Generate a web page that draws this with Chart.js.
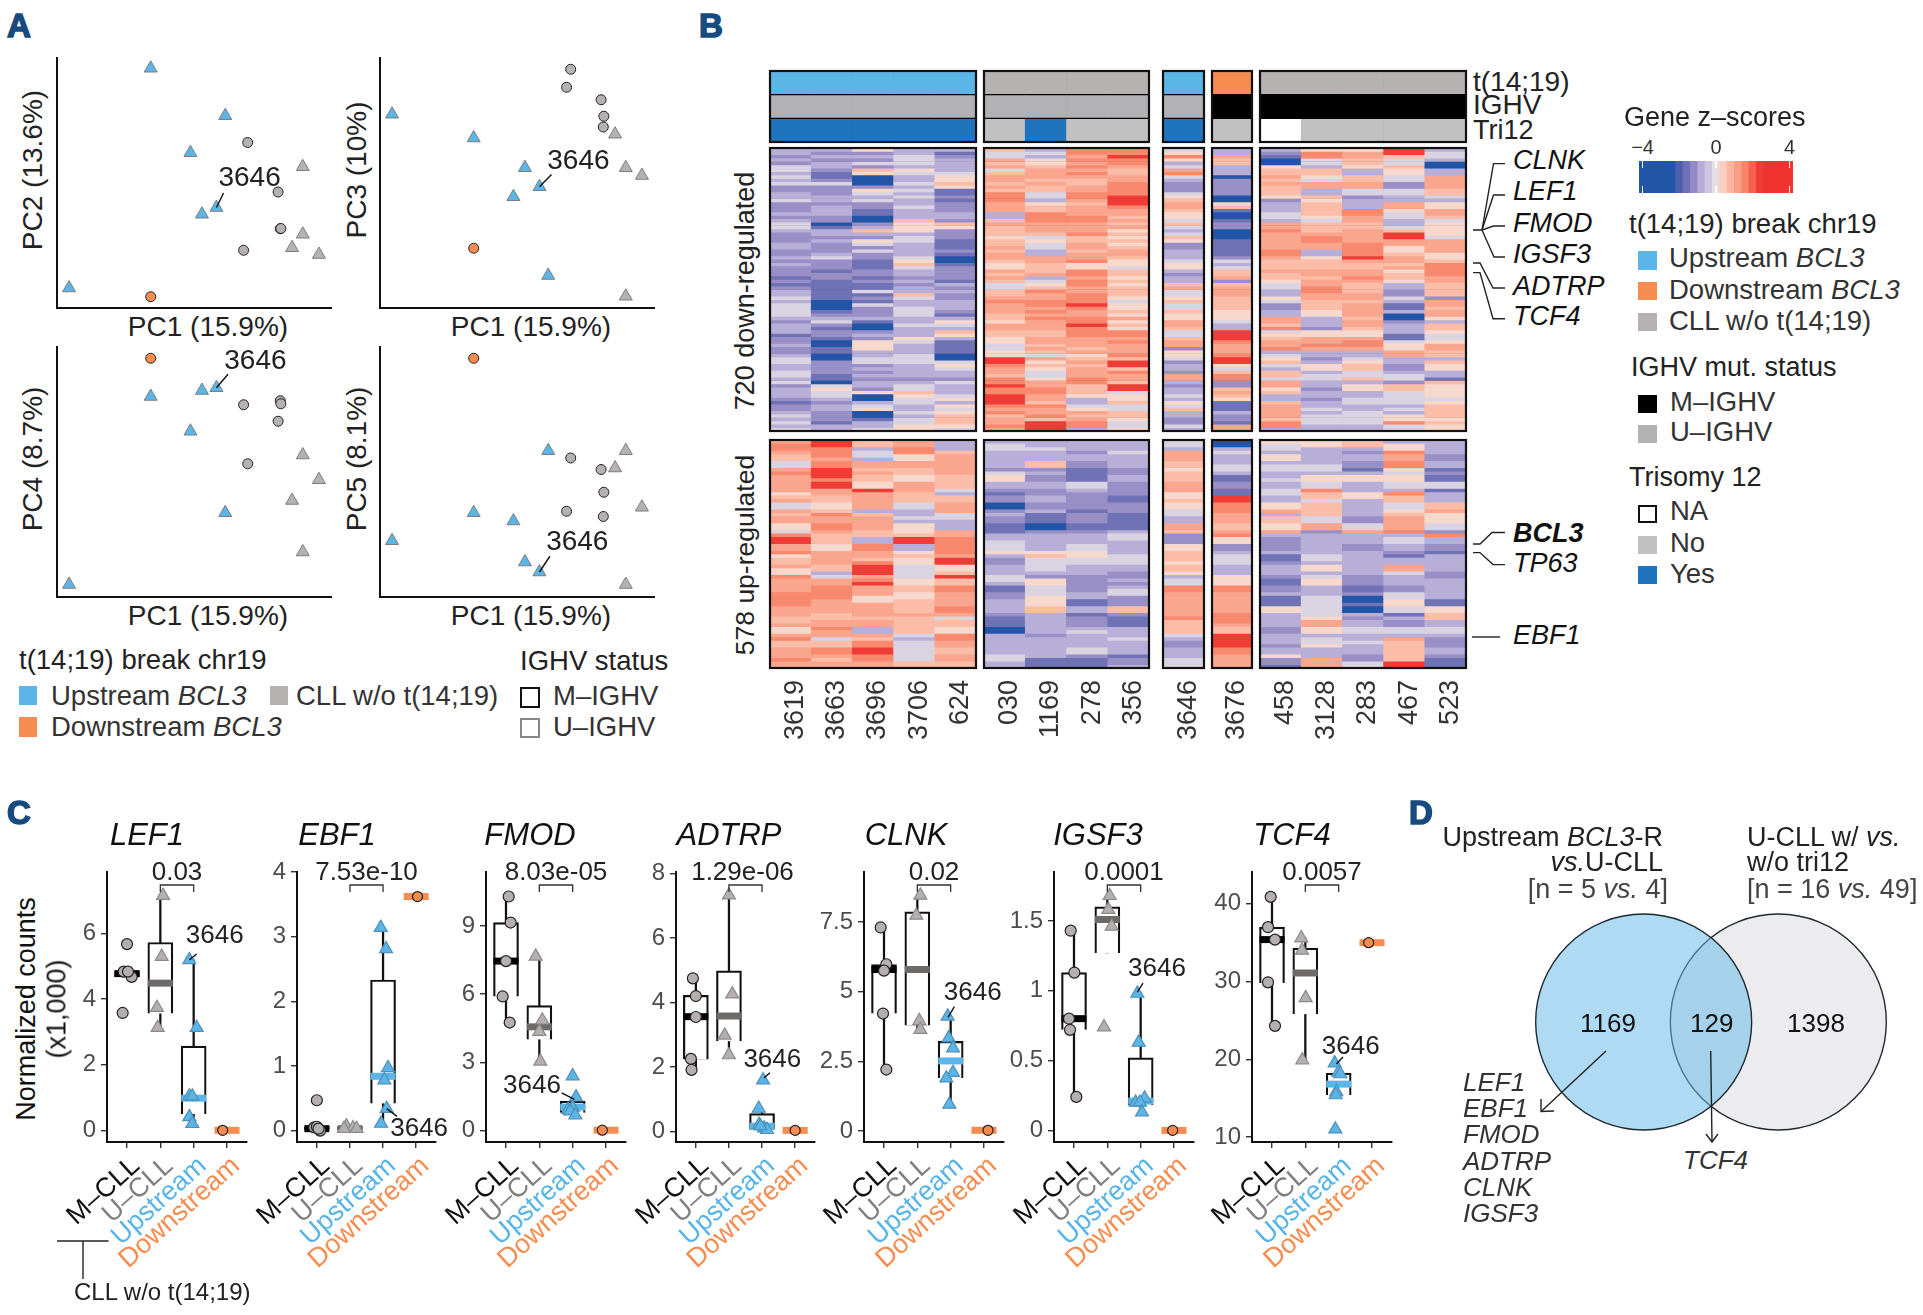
<!DOCTYPE html>
<html>
<head>
<meta charset="utf-8">
<title>BCL3 translocated CLL</title>
<script src="https://cdn.jsdelivr.net/npm/chart.js@4"></script>
<style>
  html, body { margin: 0; background: #fff; }
  #page { position: relative; width: 1923px; height: 1315px; overflow: hidden; font-family: "Liberation Sans", sans-serif; color: #222; }
  #page canvas { position: absolute; }
  #page svg { position: absolute; left: 0; top: 0; }
  .t { position: absolute; white-space: nowrap; line-height: 1; }
  .sq { position: absolute; box-sizing: border-box; }
</style>
</head>
<body>
<div id="page"></div>
<script>
// ---- panel A: PCA, one value per sample, in plot units ----
const pc1 = [4.4, 34.2, 34.2, 48.7, 52.9, 58.2, 61.4, 68.1, 69.6, 80.7, 81.5, 81.7, 85.8, 89.7, 89.7, 95.6];
const pc2 = [8.0, 95.9, 4.5, 62.1, 37.5, 40.2, 76.9, 23.1, 66.2, 46.4, 31.7, 31.8, 24.1, 29.5, 56.5, 21.4];
const pc3 = [77.5, 68, 23.9, 44.5, 56.1, 48.5, 13, 88.3, 95.5, 83.3, 72.4, 76.7, 69.5, 56.1, 4.7, 53];
const pc4 = [5, 80.2, 95.5, 66.3, 82.6, 83.7, 33.7, 76.9, 53.3, 70.3, 78.5, 77.3, 38.6, 56.8, 18, 46.9];
const pc5 = [22.5, 33.7, 95.5, 30.4, 14, 10, 58.5, 34.3, 55.6, 51, 32.2, 41.9, 51.6, 58.5, 5, 35.9];
const pcaGroup = ['up', 'up', 'down', 'up', 'up', 'up', 'up', 'cll', 'cll', 'cll', 'cll', 'cll', 'cll', 'cll', 'cll', 'cll'];
const pcaIghv = ['U', 'U', 'M', 'U', 'U', 'U', 'U', 'M', 'M', 'M', 'M', 'M', 'U', 'U', 'U', 'U'];

// ---- panel B: samples and annotation tracks ----
const samplesA = ['3619', '3663', '3696', '3706', '624'];
const samplesB = ['030', '1169', '278', '356'];
const samplesC = ['3646'];
const samplesD = ['3676'];
const samplesE = ['458', '3128', '283', '467', '523'];
const trackBreak = ['up', 'cll', 'up', 'down', 'cll'];
const trackIghv = ['U', 'U', 'U', 'M', 'M'];
const trackTri = [['Y', 'Y', 'Y', 'Y', 'Y'], ['N', 'Y', 'N', 'N'], ['Y'], ['N'], ['NA', 'N', 'N', 'N', 'N']];

// heatmap cells, one string per sample, top row first; each digit is a bin of zLevels
const zLevels = [-2.4, -1.6, -1.15, -0.75, -0.2, 0.25, 0.7, 1.1, 1.55, 2.4];
const downA = [
  '332324 434342 233422 232344 322233 223232 221212 334344 443233 312232 234433 443423 332122 343434',
  '323233 211242 223323 332201 332322 234222 122111 111000 123421 221001 100222 211045 443233 222133',
  '523242 650002 543422 110023 632542 422111 221211 412142 223100 232555 334423 232332 500345 001334',
  '334443 543343 434334 333655 534433 334564 332323 364334 443343 335433 344433 332344 654433 434455',
  '312333 345565 112122 233265 222111 210012 222132 322333 213543 653111 100454 332433 345354 566654'];
const downB = [
  '644767 467767 688877 733676 665667 677655 767644 667877 766577 665544 559987 768898 899987 867787',
  '343556 777676 644356 688877 764544 337766 673456 877887 878777 667767 647565 445778 877687 786999',
  '887878 787667 788767 778877 786677 677855 887887 788898 778898 887776 756767 778866 653345 767883',
  '889887 667788 889998 776767 565656 776554 665656 665455 657565 887877 786996 877699 455644 665445'];
const downC = ['458534 784322 245677 655464 346522 333455 323367 445644 655776 446772 554233 277323 343546 332243'];
const downD = ['337663 330222 220056 100122 000111 112434 667267 776666 555433 999877 789954 688226 765111 322177'];
const downE = [
  '321005 667676 665233 344377 877777 887666 766544 335422 337768 456778 345643 664775 633677 776883',
  '588443 665477 336566 665466 678877 335666 776778 877666 553332 557787 332355 344332 332334 344433',
  '577665 336677 442333 887766 777788 889766 778766 677677 776776 557887 334566 446355 334433 444433',
  '996446 554422 443377 544334 699775 567767 566533 224311 300233 311455 773322 344266 444434 355844',
  '344300 337777 664355 776455 554777 755688 887766 662776 775366 544577 663655 331655 554566 665655'];
const upA = [
  '788766 447877 777567 447677 554899 778566 755877 778888 777667 557866 777877',
  '998887 889998 997766 556877 887666 557777 663477 888877 776677 877466 887677',
  '663443 776766 559777 773677 776633 887768 999789 777557 777677 337688 998877',
  '778855 776655 777666 443343 555699 335655 444455 665566 667666 664344 444466',
  '333677 777766 664366 777443 337788 888799 556966 887777 887466 558877 667766'];
const upB = [
  '344333 332455 332122 002322 111334 445322 333443 112233 332111 003333 334433',
  '334333 662322 332233 223111 002333 335644 443255 444555 663333 332333 333111',
  '333233 221111 443222 221222 112333 445544 333222 223311 331222 343333 442111',
  '333433 332233 222211 222111 113443 333444 332232 344222 662111 333433 331223'];
const upC = ['443777 665666 777556 554433 776222 556665 665344 887777 777866 664322 333444'];
const upD = ['003433 344311 221199 888777 667855 223444 333555 887777 778887 669999 887777'];
const upE = [
  '544355 344334 334433 557366 557322 223112 333211 223111 553333 223332 335221',
  '553333 344355 448664 666644 772333 333443 553455 333444 444577 553445 333777',
  '663233 221355 333553 333322 447333 223333 333222 112001 003233 443343 332244',
  '355877 885455 443866 445677 778344 332133 774333 224455 441322 443766 666699',
  '333322 331211 441333 667555 442833 221333 332233 333311 556633 443222 332111'];

// colour key bins
const keyBins = [-4, -3.6, -3.2, -2.8, -2.4, -2, -1.6, -1.2, -0.8, -0.4, 0, 0.4, 0.8, 1.2, 1.6, 2, 2.4, 2.8, 3.2, 3.6, 4];

// ---- panel C: counts per gene; order M-CLL, U-CLL, Upstream, Downstream ----
const groupNames = ['M\u2013CLL', 'U\u2013CLL', 'Upstream', 'Downstream'];
const lef1Values = [[5.68, 3.58, 4.68, 4.84, 4.84], [7.16, 5.3, 3.74, 3.13], [5.2, 3.13, 1.04, 1.04, 0.41, 0.2], [0]];
const lef1Jitter = [[0, -0.13, 0.14, -0.1, 0.03], [0.08, 0.04, -0.1, -0.08], [-0.13, 0.09, -0.13, -0.04, -0.13, -0.04], [-0.13]];
const lef1Box = [[4.68, 4.68, 4.78, 4.84, 4.84], [3.13, 3.56, 4.49, 5.73, 7.16], [0.2, 0.5, 0.98, 2.57, 5.2], [0, 0, 0, 0, 0]];
const lef1Ticks = [0, 2, 4, 6];
const ebf1Values = [[0.47, 0.05, 0.06, 0, 0.03], [0.07, 0.04, 0.03, 0.03], [3.14, 2.81, 0.97, 0.78, 0.34, 0.11], [3.62]];
const ebf1Jitter = [[0, -0.08, 0, 0.1, 0.05], [-0.11, 0.09, -0.18, 0.2], [-0.07, 0.09, 0.15, 0.04, 0.11, -0.06], [0.04]];
const ebf1Box = [[0.02, 0.02, 0.03, 0.05, 0.05], [0.02, 0.02, 0.03, 0.05, 0.05], [0.11, 0.42, 0.84, 2.33, 3.14], [3.62, 3.62, 3.62, 3.62, 3.62]];
const ebf1Ticks = [0, 1, 2, 3, 4];
const fmodValues = [[10.31, 9.16, 7.46, 5.9, 4.75], [7.67, 4.85, 4.35, 3.04], [2.39, 1.46, 0.91, 0.99, 0.84, 0.66], [0]];
const fmodJitter = [[0.08, 0.14, 0, -0.1, 0.11], [-0.11, 0.09, 0, 0.03], [0, 0.1, -0.14, 0, -0.08, 0.08], [-0.11]];
const fmodBox = [[4.75, 5.9, 7.46, 9.16, 10.31], [3.04, 4.0, 4.56, 5.5, 7.67], [0.66, 0.77, 1.02, 1.28, 1.46], [0, 0, 0, 0, 0]];
const fmodTicks = [0, 3, 6, 9];
const adtrpValues = [[4.75, 4.2, 3.55, 2.25, 1.91], [7.33, 4.26, 2.98, 2.37], [1.59, 0.71, 0.21, 0.1, 0.05, 0.16], [0.03]];
const adtrpJitter = [[-0.09, 0, 0, -0.15, -0.13], [0, 0.1, -0.13, 0], [0.03, -0.1, -0.09, 0.06, 0.15, -0.05], [0]];
const adtrpBox = [[1.91, 2.24, 3.56, 4.22, 4.75], [2.37, 2.8, 3.58, 4.98, 7.33], [0.05, 0.05, 0.16, 0.55, 0.71], [0.03, 0.03, 0.03, 0.03, 0.03]];
const adtrpTicks = [0, 2, 4, 6, 8];
const clnkValues = [[7.31, 5.99, 5.76, 4.22, 2.21], [8.46, 7.74, 3.96, 3.64], [4.12, 3.34, 2.98, 2.1, 1.9, 0.96], [0.03]];
const clnkJitter = [[-0.1, 0.07, 0, -0.03, 0.07], [0.09, -0.03, 0.06, 0.09], [-0.09, -0.06, 0.07, 0.07, -0.13, -0.04], [0.12]];
const clnkBox = [[2.21, 4.22, 5.8, 5.98, 7.31], [3.64, 3.8, 5.8, 7.87, 8.46], [0.96, 1.92, 2.52, 3.22, 4.12], [0.03, 0.03, 0.03, 0.03, 0.03]];
const clnkTicks = [0, 2.5, 5, 7.5];
const igsf3Values = [[1.43, 1.13, 0.8, 0.72, 0.24], [1.68, 1.58, 1.46, 0.74], [0.98, 0.63, 0.23, 0.2, 0.2, 0.13], [0]];
const igsf3Jitter = [[-0.1, 0.01, -0.15, -0.12, 0.07], [0.07, 0.03, 0.13, -0.1], [-0.1, -0.06, 0.12, -0.15, -0.02, 0.04], [-0.04]];
const igsf3Box = [[0.24, 0.72, 0.8, 1.13, 1.43], [1.27, 1.27, 1.51, 1.6, 1.68], [0.13, 0.18, 0.21, 0.52, 0.98], [0, 0, 0, 0, 0]];
const igsf3Ticks = [0, 0.5, 1, 1.5];
const tcf4Values = [[40.9, 37, 35.4, 29.9, 24.3], [35.6, 34, 27.9, 19.9], [19.5, 18.3, 18.1, 15.8, 15.4, 11], [35]];
const tcf4Jitter = [[-0.04, -0.12, 0.09, -0.12, 0.09], [-0.12, -0.1, 0.01, -0.09], [-0.12, -0.01, 0.05, -0.07, -0.09, -0.1], [-0.1]];
const tcf4Box = [[24.3, 29.8, 35.4, 37, 40.9], [19.9, 25.8, 31.1, 34.3, 35.6], [15.4, 15.4, 16.8, 18.2, 19.5], [35, 35, 35, 35, 35]];
const tcf4Ticks = [10, 20, 30, 40];

// ---- panel D: venn counts ----
const vennCounts = [1169, 129, 1398];

// colours
const groupColor = { up: '#5BB5E6', down: '#F78C50', cll: '#B7B2B2' };
const ighvColor = { U: '#B2B2B4', M: '#000000' };
const triColor = { Y: '#1F74BD', N: '#C0C1C0', NA: '#FFFFFF' };
const zStops = [[-2.4, '#2355A7'], [-1.9, '#5561AD'], [-1.3, '#8B82BE'], [-0.8, '#B5ACD8'], [0, '#E6E0E4'], [0.3, '#FAD6C8'], [0.8, '#FBB5A0'], [1.3, '#F99A82'], [1.8, '#F7755A'], [2.5, '#EE3330']];

function zColor(z) {
  if (z <= zStops[0][0]) return zStops[0][1];
  for (let i = 1; i < zStops.length; i++) {
    if (z <= zStops[i][0]) {
      const f = (z - zStops[i - 1][0]) / (zStops[i][0] - zStops[i - 1][0]);
      const a = parseInt(zStops[i - 1][1].slice(1), 16), b = parseInt(zStops[i][1].slice(1), 16);
      const mix = s => Math.round(((a >> s) & 255) * (1 - f) + ((b >> s) & 255) * f);
      return `rgb(${mix(16)},${mix(8)},${mix(0)})`;
    }
  }
  return zStops[zStops.length - 1][1];
}

const page = document.getElementById('page');
Chart.defaults.font.family = '"Liberation Sans", sans-serif';
Chart.defaults.animation = false;
Chart.defaults.plugins.legend.display = false;
Chart.defaults.plugins.tooltip.enabled = false;

// draws text, leader lines and the p value bracket in data coordinates
Chart.register({
  id: 'notes',
  afterDatasetsDraw(chart, args, opts) {
    const ctx = chart.ctx, sx = chart.scales.x, sy = chart.scales.y;
    ctx.save();
    ctx.strokeStyle = '#111';
    ctx.fillStyle = '#222';
    ctx.textAlign = 'center';
    ctx.textBaseline = 'middle';
    ctx.font = (opts.size || 26) + 'px "Liberation Sans"';
    (opts.items || []).forEach(it => {
      if (it.line) {
        ctx.lineWidth = 1.4;
        ctx.beginPath();
        ctx.moveTo(sx.getPixelForValue(it.line[0]), sy.getPixelForValue(it.line[1]));
        ctx.lineTo(sx.getPixelForValue(it.line[2]), sy.getPixelForValue(it.line[3]));
        ctx.stroke();
      }
      if (it.text) ctx.fillText(it.text, sx.getPixelForValue(it.x), sy.getPixelForValue(it.y));
    });
    if (opts.pValue) {
      const top = chart.chartArea.top, a = sx.getPixelForValue(1), b = sx.getPixelForValue(2);
      ctx.lineWidth = 1.3;
      ctx.strokeStyle = '#333';
      ctx.beginPath();
      ctx.moveTo(a, top + 20);
      ctx.lineTo(a, top + 13);
      ctx.lineTo(b, top + 13);
      ctx.lineTo(b, top + 20);
      ctx.stroke();
      ctx.fillText(opts.pValue, (a + b) / 2 + opts.pShift, top + 1);
    }
    ctx.restore();
  }
});

// black frame round the heatmap blocks
Chart.register({
  id: 'frame',
  beforeDatasetsDraw(chart, args, opts) {
    if (!opts.on) return;
    const a = chart.chartArea;
    chart.ctx.fillStyle = '#000';
    chart.ctx.fillRect(a.left, a.top, a.width, a.height);
  },
  afterDatasetsDraw(chart, args, opts) {
    if (!opts.on) return;
    const a = chart.chartArea;
    chart.ctx.strokeStyle = '#111';
    chart.ctx.lineWidth = 2.2;
    chart.ctx.strokeRect(a.left, a.top, a.width, a.height);
  }
});

// rect is the plot area in page pixels, m the room kept round it for axes and notes
function addChart(rect, m, config) {
  const canvas = document.createElement('canvas');
  canvas.width = rect[2] - rect[0] + m.l + m.r;
  canvas.height = rect[3] - rect[1] + m.t + m.b;
  canvas.style.left = (rect[0] - m.l) + 'px';
  canvas.style.top = (rect[1] - m.t) + 'px';
  page.appendChild(canvas);
  const o = config.options;
  const xOn = o.scales.x.display !== false, yOn = o.scales.y.display !== false;
  o.responsive = false;
  o.layout = { autoPadding: false, padding: { left: yOn ? 0 : m.l, right: m.r, top: m.t, bottom: xOn ? 0 : m.b } };
  if (xOn) o.scales.x.afterFit = s => { s.height = m.b; s.paddingLeft = 0; s.paddingRight = 0; };
  if (yOn) o.scales.y.afterFit = s => { s.width = m.l; s.paddingTop = 0; s.paddingBottom = 0; };
  return new Chart(canvas, config);
}

function label(x, y, html, opt) {
  opt = opt || {};
  const d = document.createElement('div');
  d.className = 't';
  d.innerHTML = html;
  d.style.left = x + 'px';
  d.style.top = y + 'px';
  d.style.fontSize = (opt.size || 27.5) + 'px';
  if (opt.color) d.style.color = opt.color;
  if (opt.weight) d.style.fontWeight = opt.weight;
  if (opt.italic) d.style.fontStyle = 'italic';
  if (opt.stroke) d.style.webkitTextStroke = opt.stroke;
  const ax = opt.align === 'center' ? '-50%' : opt.align === 'right' ? '-100%' : '0';
  d.style.transform = `translate(${ax},-50%)` + (opt.rotate ? ` rotate(${opt.rotate}deg)` : '');
  page.appendChild(d);
}

function square(x0, y0, x1, y1, fill, edge) {
  const d = document.createElement('div');
  d.className = 'sq';
  d.style.left = x0 + 'px';
  d.style.top = y0 + 'px';
  d.style.width = (x1 - x0) + 'px';
  d.style.height = (y1 - y0) + 'px';
  d.style.background = fill;
  if (edge) d.style.border = '2px solid ' + edge;
  page.appendChild(d);
}

// ---- panel A ----
function pcaChart(rect, pcY, yTitle, yTitleX, note) {
  addChart(rect, { l: 2, r: 10, t: 10, b: 2 }, {
    type: 'scatter',
    data: {
      datasets: [{
        data: pc1.map((x, i) => ({ x: x, y: pcY[i] })),
        pointStyle: pcaIghv.map(v => v === 'M' ? 'circle' : 'triangle'),
        pointRadius: pcaIghv.map(v => v === 'M' ? 5 : 7.5),
        backgroundColor: pcaGroup.map(g => groupColor[g]),
        borderColor: pcaIghv.map(v => v === 'M' ? '#222' : '#7D7D7D'),
        borderWidth: 1,
        clip: false
      }]
    },
    options: {
      scales: {
        x: { min: 0, max: 100, grid: { display: false }, ticks: { display: false }, border: { color: '#111', width: 2 } },
        y: { min: 0, max: 100, grid: { display: false }, ticks: { display: false }, border: { color: '#111', width: 2 } }
      },
      plugins: { notes: { size: 28, items: [{ text: '3646', x: note[0], y: note[1], line: [pc1[5], pcY[5], note[2], note[3]] }] } }
    }
  });
  label(rect[0] + 151, rect[3] + 19, 'PC1 (15.9%)', { align: 'center', size: 28 });
  label(yTitleX, (rect[1] + rect[3]) / 2 - 13, yTitle, { align: 'center', rotate: -90, size: 28 });
}
pcaChart([57, 58, 331, 308], pc2, 'PC2 (13.6%)', 33, [70.3, 51.8, 60.8, 46]);
pcaChart([380, 58, 654, 308], pc3, 'PC3 (10%)', 357, [72.4, 58.6, 62.6, 53.4]);
pcaChart([57, 347, 331, 597], pc4, 'PC4 (8.7%)', 33, [72.4, 94.2, 62.4, 89.1]);
pcaChart([380, 347, 654, 597], pc5, 'PC5 (8.1%)', 357, [72, 21.7, 62, 16.3]);

label(19, 660, 't(14;19) break chr19');
square(19, 686, 37, 705, groupColor.up);
label(51, 696, 'Upstream <i>BCL3</i>', { color: '#333' });
square(19, 717, 37, 737, groupColor.down);
label(51, 727, 'Downstream <i>BCL3</i>', { color: '#333' });
square(270, 686, 288, 705, groupColor.cll);
label(296, 696, 'CLL w/o t(14;19)', { color: '#333' });
label(520, 661, 'IGHV status');
square(520, 687, 540, 708, '#fff', '#111');
label(553, 696, 'M\u2013IGHV', { color: '#333' });
square(520, 718, 540, 738, '#fff', '#888');
label(553, 727, 'U\u2013IGHV', { color: '#333' });

// ---- panel B ----
const heatGroups = [
  { x0: 770, x1: 976.5, samples: samplesA, down: downA, up: upA },
  { x0: 984, x1: 1149.5, samples: samplesB, down: downB, up: upB },
  { x0: 1163, x1: 1204, samples: samplesC, down: downC, up: upC },
  { x0: 1212, x1: 1252.5, samples: samplesD, down: downD, up: upD },
  { x0: 1260, x1: 1466, samples: samplesE, down: downE, up: upE }
];

function heatChart(g, block, y0, y1, showLabels) {
  const cols = block.map(s => s.replace(/ /g, ''));
  const rows = cols[0].length;
  const datasets = [];
  for (let r = 0; r < rows; r++) {
    datasets.push({
      data: g.samples.map(() => [r, r + 1]),
      backgroundColor: cols.map(c => zColor(zLevels[+c[r]])),
      borderWidth: 0
    });
  }
  addChart([g.x0, y0, g.x1, y1], { l: 3, r: 3, t: 3, b: showLabels ? 72 : 3 }, {
    type: 'bar',
    data: { labels: g.samples, datasets: datasets },
    options: {
      grouped: false,
      barPercentage: 1,
      categoryPercentage: 1,
      scales: {
        x: showLabels ? {
          grid: { display: false },
          border: { display: false },
          ticks: { autoSkip: false, minRotation: 90, maxRotation: 90, padding: 4, labelOffset: 5, color: '#333', font: { size: 27 } }
        } : { display: false },
        y: { display: false, reverse: true, min: 0, max: rows }
      },
      plugins: { frame: { on: true } }
    }
  });
}

function trackChart(g, tri, brk, ighv) {
  const rowColors = [g.samples.map(() => groupColor[brk]), g.samples.map(() => ighvColor[ighv]), tri.map(v => triColor[v])];
  addChart([g.x0, 70.5, g.x1, 142], { l: 3, r: 3, t: 3, b: 3 }, {
    type: 'bar',
    data: {
      labels: g.samples,
      datasets: rowColors.map((c, r) => ({ data: g.samples.map(() => [r + 0.04, r + 0.96]), backgroundColor: c, borderWidth: 0 }))
    },
    options: {
      grouped: false,
      barPercentage: 1,
      categoryPercentage: 1,
      scales: { x: { display: false }, y: { display: false, reverse: true, min: 0, max: 3 } },
      plugins: { frame: { on: true } }
    }
  });
}

heatGroups.forEach((g, i) => {
  trackChart(g, trackTri[i], trackBreak[i], trackIghv[i]);
  heatChart(g, g.down, 148, 431, false);
  heatChart(g, g.up, 440, 668.5, true);
});

label(1473, 82, 't(14;19)', { size: 28 });
label(1473, 105, 'IGHV', { size: 28 });
label(1473, 130, 'Tri12', { size: 27 });
label(745, 291, '720 down-regulated', { align: 'center', rotate: -90, size: 27 });
label(745, 555, '578 up-regulated', { align: 'center', rotate: -90, size: 26.5 });

const geneLabels = [['CLNK', 160], ['LEF1', 191], ['FMOD', 222.5], ['IGSF3', 254], ['ADTRP', 285.7], ['TCF4', 316], ['TP63', 562.5], ['EBF1', 635]];
geneLabels.forEach(g => label(1513, g[1], g[0], { italic: true, size: 27, color: '#111' }));
label(1513, 532.5, 'BCL3', { italic: true, weight: 'bold', size: 27, color: '#111' });

// colour key
addChart([1639, 161, 1793, 193], { l: 2, r: 2, t: 2, b: 2 }, {
  type: 'bar',
  data: {
    labels: keyBins,
    datasets: [{ data: keyBins.map(() => [0, 1]), backgroundColor: keyBins.map(zColor), borderWidth: 0 }]
  },
  options: {
    barPercentage: 1,
    categoryPercentage: 1,
    scales: { x: { display: false }, y: { display: false, min: 0, max: 1 } }
  }
});
[[-4, 1642.6, '\u22124'], [0, 1716, '0'], [4, 1789.5, '4']].forEach(k => {
  label(k[1], 147, k[2], { align: 'center', size: 20, color: '#333' });
  square(k[1] - 1, 161, k[1] + 0.5, 168, '#fff');
  square(k[1] - 1, 186, k[1] + 0.5, 193, '#fff');
});

label(1624, 117, 'Gene z\u2013scores', { size: 27 });
label(1629, 224, 't(14;19) break chr19');
square(1638, 251, 1657, 270, groupColor.up);
label(1669, 258, 'Upstream <i>BCL3</i>', { color: '#333' });
square(1638, 282, 1657, 300, groupColor.down);
label(1669, 290, 'Downstream <i>BCL3</i>', { color: '#333' });
square(1638, 313, 1657, 331, groupColor.cll);
label(1669, 321, 'CLL w/o t(14;19)', { color: '#333' });
label(1631, 367, 'IGHV mut. status', { size: 27 });
square(1638, 395, 1657, 413, '#000');
label(1670, 402, 'M\u2013IGHV', { color: '#333' });
square(1638, 425, 1657, 443, ighvColor.U);
label(1670, 432, 'U\u2013IGHV', { color: '#333' });
label(1629, 477, 'Trisomy 12', { size: 27 });
square(1638, 505, 1657, 523, '#fff', '#111');
label(1670, 511, 'NA', { color: '#333' });
square(1638, 536, 1657, 554, triColor.N);
label(1670, 543, 'No', { color: '#333' });
square(1638, 566, 1657, 584, triColor.Y);
label(1670, 574, 'Yes', { color: '#333' });

// ---- panel C ----
const tickColors = ['#111', '#808080', '#56B4E9', '#F78C50'];
const medianColors = ['#000', '#6E6A69', groupColor.up, groupColor.down];
const pointFill = ['#B5B0AF', '#B5B0AF', groupColor.up, groupColor.down];
const pointEdge = ['#222', '#8A8A8A', '#4E90B8', '#222'];
const pointShape = ['circle', 'triangle', 'triangle', 'circle'];
const pointSize = [5.5, 7.5, 7.5, 5];

function boxChart(c) {
  const whiskers = { type: 'bar', order: 5, data: c.box.map((b, i) => ({ x: i, y: [b[0], b[4]] })), backgroundColor: '#111', barThickness: 1.6, grouped: false };
  const boxes = { type: 'bar', order: 4, data: c.box.map((b, i) => ({ x: i, y: [b[1], b[3]] })).slice(0, 3), backgroundColor: '#fff', borderColor: '#111', borderWidth: 2.2, barThickness: 25, grouped: false };
  const medians = {
    order: 3,
    data: c.box.map((b, i) => ({ x: i, y: b[2] })),
    pointStyle: 'line',
    pointRadius: 12.5,
    borderColor: medianColors,
    pointBorderWidth: 7,
    clip: false
  };
  const points = c.values.map((vals, g) => ({
    order: 2 - g * 0.1,
    data: vals.map((v, k) => ({ x: g + c.jitter[g][k], y: v })),
    pointStyle: pointShape[g],
    pointRadius: pointSize[g],
    backgroundColor: pointFill[g],
    borderColor: pointEdge[g],
    borderWidth: 1.2,
    clip: false
  }));
  addChart(c.rect, { l: 62, r: 24, t: 22, b: 172 }, {
    type: 'scatter',
    data: { datasets: [whiskers, boxes, medians].concat(points) },
    options: {
      scales: {
        x: {
          type: 'linear',
          offset: false,
          min: -0.6,
          max: 3.6,
          afterBuildTicks: s => { s.ticks = groupNames.map((n, i) => ({ value: i })); },
          grid: { drawOnChartArea: false, color: '#333', lineWidth: 1.4, tickLength: 6, offset: false },
          border: { color: '#111', width: 2 },
          ticks: {
            autoSkip: false,
            minRotation: 42,
            maxRotation: 42,
            padding: 2,
            labelOffset: 9,
            font: { size: 27 },
            color: ctx => tickColors[ctx.index],
            callback: v => groupNames[v]
          }
        },
        y: {
          min: c.yMin,
          max: c.yMax,
          afterBuildTicks: s => { s.ticks = c.ticks.map(v => ({ value: v })); },
          grid: { drawOnChartArea: false, color: '#333', lineWidth: 1.4, tickLength: 6 },
          border: { color: '#111', width: 2 },
          ticks: { autoSkip: false, padding: 5, color: '#4D4D4D', font: { size: 24 }, callback: v => String(v) }
        }
      },
      plugins: {
        notes: { pValue: c.p, pShift: c.pShift, items: [{ text: '3646', x: c.note[0], y: c.note[1], line: [c.note[2], c.note[3], c.note[4], c.note[5]] }] }
      }
    }
  });
  label(c.titleX, 834, c.name, { align: 'center', italic: true, size: 31, color: '#111' });
}

boxChart({ name: 'LEF1', titleX: 147, rect: [107, 872, 247, 1142], yMin: -0.357, yMax: 7.88, ticks: lef1Ticks, values: lef1Values, jitter: lef1Jitter, box: lef1Box, p: '0.03', pShift: 0, note: [2.63, 5.94, 1.87, 5.2, 2.09, 5.38] });
boxChart({ name: 'EBF1', titleX: 337, rect: [297, 872, 436.5, 1142], yMin: -0.176, yMax: 4, ticks: ebf1Ticks, values: ebf1Values, jitter: ebf1Jitter, box: ebf1Box, p: '7.53e-10', pShift: 0, note: [3.09, 0.03, 2.11, 0.34, 2.42, 0.22] });
boxChart({ name: 'FMOD', titleX: 530, rect: [486, 872, 626, 1142], yMin: -0.52, yMax: 11.39, ticks: fmodTicks, values: fmodValues, jitter: fmodJitter, box: fmodBox, p: '8.03e-05', pShift: 0, note: [0.78, 1.95, 1.67, 1.65, 2.05, 1.36] });
boxChart({ name: 'ADTRP', titleX: 729, rect: [675.7, 872, 815.5, 1142], yMin: -0.33, yMax: 8.05, ticks: adtrpTicks, values: adtrpValues, jitter: adtrpJitter, box: adtrpBox, p: '1.29e-06', pShift: -3, note: [2.31, 2.23, 2.06, 1.66, 2.24, 1.82] });
boxChart({ name: 'CLNK', titleX: 906, rect: [864.3, 872, 1004.6, 1142], yMin: -0.39, yMax: 9.3, ticks: clnkTicks, values: clnkValues, jitter: clnkJitter, box: clnkBox, p: '0.02', pShift: 0, note: [2.66, 4.98, 1.92, 4.08, 2.11, 4.47] });
boxChart({ name: 'IGSF3', titleX: 1098, rect: [1053.8, 872, 1194.6, 1142], yMin: -0.083, yMax: 1.85, ticks: igsf3Ticks, values: igsf3Values, jitter: igsf3Jitter, box: igsf3Box, p: '0.0001', pShift: 0, note: [2.49, 1.157, 1.9, 0.99, 2.07, 1.054] });
boxChart({ name: 'TCF4', titleX: 1292, rect: [1252, 872, 1392.6, 1142], yMin: 9.35, yMax: 44.1, ticks: tcf4Ticks, values: tcf4Values, jitter: tcf4Jitter, box: tcf4Box, p: '0.0057', pShift: 0, note: [2.36, 21.6, 1.93, 19.4, 2.13, 20.3] });

label(26, 1009, 'Normalized counts', { align: 'center', rotate: -90, size: 27, color: '#111' });
label(57, 1009, '(x1,000)', { align: 'center', rotate: -90, size: 27, color: '#111' });
label(74, 1292, 'CLL w/o t(14;19)', { size: 24 });

// ---- panel D ----
addChart([1508.6, 902.3, 1912.7, 1142.3], { l: 0, r: 0, t: 0, b: 0 }, {
  type: 'bubble',
  data: {
    datasets: [
      { order: 2, data: [{ x: 1, y: 0, r: 108 }], backgroundColor: '#ECECEE', borderColor: '#1F2A30', borderWidth: 1.4, clip: false },
      { order: 1, data: [{ x: 0, y: 0, r: 108 }], backgroundColor: 'rgba(102,185,232,0.53)', borderColor: '#1F2A30', borderWidth: 1.4, clip: false }
    ]
  },
  options: {
    scales: { x: { display: false, min: -1, max: 2 }, y: { display: false, min: -1, max: 1 } }
  }
});
label(1608, 1023, String(vennCounts[0]), { align: 'center', size: 26, color: '#111' });
label(1711.7, 1023, String(vennCounts[1]), { align: 'center', size: 26, color: '#111' });
label(1816, 1023, String(vennCounts[2]), { align: 'center', size: 26, color: '#111' });

label(1663, 837, 'Upstream <i>BCL3</i>-R', { align: 'right', size: 27 });
label(1663, 862, '<i>vs.</i>U-CLL', { align: 'right', size: 27 });
label(1668, 889, '[n = 5 <i>vs.</i> 4]', { align: 'right', size: 27, color: '#444' });
label(1747, 837, 'U-CLL w/ <i>vs.</i>', { size: 27 });
label(1747, 862, 'w/o tri12', { size: 27 });
label(1747, 889, '[n = 16 <i>vs.</i> 49]', { size: 27, color: '#444' });
['LEF1', 'EBF1', 'FMOD', 'ADTRP', 'CLNK', 'IGSF3'].forEach((g, i) => {
  label(1463, 1081.7 + i * 26.3, g, { italic: true, size: 26, color: '#333' });
});
label(1683, 1160, 'TCF4', { italic: true, size: 26, color: '#333' });

// panel letters
[['A', 19, 25], ['B', 711, 25], ['C', 19, 812], ['D', 1421, 812]].forEach(p => {
  label(p[1], p[2], p[0], { align: 'center', size: 33, weight: 'bold', color: '#174A7E', stroke: '1.5px #174A7E' });
});

// leader lines of the heatmap genes, the CLL bracket and the venn arrows
const leaders = [
  'M1473 230H1482L1493.5 163.6H1505', 'M1482 230L1493.5 195H1505', 'M1482 230L1493.5 226H1505', 'M1482 230L1494 257H1505',
  'M1473 263H1480L1493 288H1505', 'M1473 272.6H1480L1493 318.7H1505',
  'M1473 544H1480L1492 532.5H1505', 'M1473 552.6H1480L1493 564.6H1505', 'M1472 637H1500',
  'M57 1241H108.6', 'M83 1241V1279',
  'M1606 1051L1541.7 1111', 'M1541 1099L1541 1111.5L1554 1111', 'M1710.7 1051L1712 1141.7', 'M1706 1134L1712 1142L1718 1134'
];
const svgNs = 'http://www.w3.org/2000/svg';
const svg = document.createElementNS(svgNs, 'svg');
svg.setAttribute('width', 1923);
svg.setAttribute('height', 1315);
leaders.forEach(d => {
  const p = document.createElementNS(svgNs, 'path');
  p.setAttribute('d', d);
  p.setAttribute('fill', 'none');
  p.setAttribute('stroke', '#222');
  p.setAttribute('stroke-width', 1.4);
  svg.appendChild(p);
});
page.appendChild(svg);
</script>
</body>
</html>
